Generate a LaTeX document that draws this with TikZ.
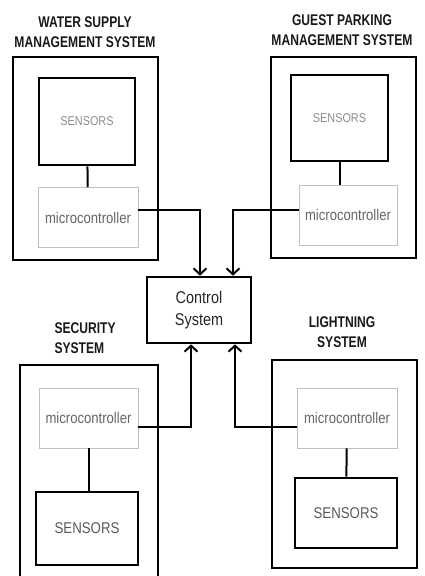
\documentclass[tikz,border=0pt]{standalone}
\usepackage{fontspec}
\setmainfont[FakeStretch=0.85]{Liberation Sans}
\newfontfamily\titlefont[FakeStretch=0.78]{Liberation Sans}
\usetikzlibrary{arrows.meta,positioning}

\begin{document}
\begin{tikzpicture}[x=1pt, y=-1pt,
  outer/.style={draw, line width=2.2pt, inner sep=0pt},
  sens/.style={draw, line width=2.6pt, text=black!45, inner sep=0pt, font=\fontsize{12.8}{14}\selectfont},
  mcu/.style={draw=black!25, line width=0.9pt, fill=white, text=black!60, inner sep=0pt,
    minimum width=100pt, minimum height=60pt, font=\fontsize{15.4}{17}\selectfont},
  ctrl/.style={draw, line width=2.6pt, align=center, inner sep=0pt, text=black!85,
    font=\fontsize{17}{22}\selectfont},
  title/.style={font=\titlefont\bfseries\fontsize{15.5}{20}\selectfont, text=black!90},
  link/.style={line width=2pt},
  arr/.style={-{Straight Barb[length=6pt,width=13pt]}, line width=2pt}
]
\path[use as bounding box] (0,0) rectangle (424,576);
\clip (0,0) rectangle (424,576);

% control unit
\node[ctrl, minimum width=104pt, minimum height=66pt] (ctl) at (199,310) {Control\\System};

% water supply
\node[title, align=center] (wtitle) at (85,32) {WATER SUPPLY\\MANAGEMENT SYSTEM};
\node[outer, minimum width=145pt, minimum height=203pt] (wbox) at (85.5,158.5) {};
\node[sens, minimum width=96pt, minimum height=87pt] (wsens) at (87,121.5) {SENSORS};
\node[mcu] (wmcu) at (88,217.5) {microcontroller};
\draw[link] (wsens) -- (wmcu);

% guest parking
\node[title, align=center] (gtitle) at (342,30) {GUEST PARKING\\MANAGEMENT SYSTEM};
\node[outer, minimum width=145pt, minimum height=201pt] (gbox) at (343.5,157.5) {};
\node[sens, minimum width=97pt, minimum height=86pt] (gsens) at (339.5,118) {SENSORS};
\node[mcu, minimum width=98pt] (gmcu) at (348,215) {microcontroller};
\draw[link] (gsens.south) -- (gsens.south |- gmcu.north);

% security
\node[title, align=left, anchor=west] (stitle) at (51,338) {SECURITY\\SYSTEM};
\node[outer, minimum width=138pt, minimum height=240pt] (sbox) at (89,485) {};
\node[mcu, minimum width=99pt] (smcu) at (88.5,418) {microcontroller};
\node[sens, minimum width=102pt, minimum height=73pt, text=black!65, font=\fontsize{15.6}{17}\selectfont] (ssens) at (87,528.5) {SENSORS};
\draw[link] (smcu.south) -- (smcu.south |- ssens.north);

% lightning
\node[title, align=center] (ltitle) at (342,332) {LIGHTNING\\SYSTEM};
\node[outer, minimum width=145pt, minimum height=208pt] (lbox) at (344.5,464) {};
\node[mcu] (lmcu) at (347,418) {microcontroller};
\node[sens, minimum width=102pt, minimum height=70pt, text=black!65, font=\fontsize{15.6}{17}\selectfont] (lsens) at (346,513) {SENSORS};
\draw[link] (lmcu) -- (lsens);

% links to the control unit
\draw[arr] ([yshift=8pt]wmcu.east) -| ([xshift=1pt]ctl.north);
\draw[arr] ([yshift=5pt]gmcu.west) -| ([xshift=34pt]ctl.north);
\draw[arr] ([yshift=-9pt]smcu.east) -| ([xshift=-8pt]ctl.south);
\draw[arr] ([yshift=-9pt]lmcu.west) -| ([xshift=36pt]ctl.south);

\end{tikzpicture}
\end{document}
